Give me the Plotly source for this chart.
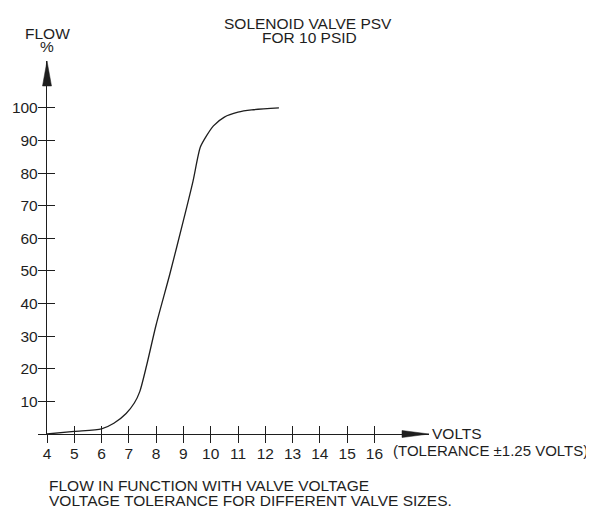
import plotly.graph_objects as go

# ---- data ----
volts = [4, 5, 6, 6.45, 6.9, 7.2, 7.4, 7.65, 8.0, 8.5, 9.0, 9.35, 9.62, 9.85, 10.1, 10.5, 11.0, 11.5, 12.5]
flow = [0, 0.8, 1.6, 3.3, 6.3, 9.5, 13, 21, 33.5, 49, 65.5, 77.5, 88, 91.5, 94.5, 97.2, 98.7, 99.4, 100]

x_ticks = [4, 5, 6, 7, 8, 9, 10, 11, 12, 13, 14, 15, 16]
y_ticks = [0, 10, 20, 30, 40, 50, 60, 70, 80, 90, 100]
y_tick_text = ["", "10", "20", "30", "40", "50", "60", "70", "80", "90", "100"]

X_RANGE = [4, 18]
Y_RANGE = [0, 114.4]

title_lines = ["SOLENOID VALVE PSV", "FOR 10 PSID"]
y_label_lines = ["FLOW", "%"]
x_label = "VOLTS"
x_note = "(TOLERANCE ±1.25 VOLTS)"
note_lines = ["FLOW IN FUNCTION WITH VALVE VOLTAGE",
              "VOLTAGE TOLERANCE FOR DIFFERENT VALVE SIZES."]

INK = "#1e1e1e"
FONT = "Liberation Sans, Arial, sans-serif"
FS = 15.5

fig = go.Figure()
fig.add_trace(go.Scatter(x=volts, y=flow, mode="lines",
                         line=dict(color=INK, width=1.3, shape="spline", smoothing=0.7),
                         hoverinfo="skip", showlegend=False))
# invisible trace on overlay axes to keep them active
fig.add_trace(go.Scatter(x=[volts[0]], y=[flow[0]], xaxis="x2", yaxis="y2",
                         mode="markers", marker=dict(opacity=0), showlegend=False,
                         hoverinfo="skip"))

axis_common = dict(showgrid=False, zeroline=False, linecolor=INK, linewidth=1.3,
                   tickcolor=INK, tickwidth=1.3, ticklen=8, automargin=False,
                   tickfont=dict(family=FONT, size=FS, color=INK))

# the page body has an 8px margin, so the figure is sized to fit the window
fig.update_layout(
    width=586, height=500,
    margin=dict(l=39, r=165, t=53, b=74),
    paper_bgcolor="white", plot_bgcolor="white",
    font=dict(family=FONT, size=FS, color=INK),
    xaxis=dict(range=X_RANGE, tickvals=x_ticks, ticks="outside", showline=True,
               ticklabelstandoff=-3, **axis_common),
    yaxis=dict(range=Y_RANGE, tickvals=y_ticks, ticktext=y_tick_text, ticks="outside",
               showline=True, ticklabelstandoff=-3, **axis_common),
    xaxis2=dict(range=X_RANGE, tickvals=x_ticks, ticks="inside", showline=False,
                showticklabels=False, overlaying="x", side="bottom", anchor="y2",
                **axis_common),
    yaxis2=dict(range=Y_RANGE, tickvals=y_ticks, ticks="inside", showline=False,
                showticklabels=False, overlaying="y", side="left", anchor="x2",
                **axis_common),
)

# arrow heads at the ends of the axes (paper-referenced so they are not clipped)
fig.add_shape(type="path", xref="paper", yref="paper", xsizemode="pixel", ysizemode="pixel",
              xanchor=0, yanchor=1,
              path="M0,0 L-4.5,-25 L4.5,-25 Z", fillcolor=INK, line=dict(color=INK, width=0.5))
fig.add_shape(type="path", xref="paper", yref="paper", xsizemode="pixel", ysizemode="pixel",
              xanchor=1, yanchor=0,
              path="M0,0 L-27,3.5 L-27,-3.5 Z", fillcolor=INK, line=dict(color=INK, width=0.5))

def ann(text, x, y, xanchor="center", size=FS):
    fig.add_annotation(text=text, x=x, y=y, xref="paper", yref="paper",
                       xanchor=xanchor, yanchor="middle", showarrow=False,
                       font=dict(family=FONT, size=size, color=INK))

ann(title_lines[0], 0.684, 1.100)
ann(title_lines[1], 0.688, 1.063)
ann(y_label_lines[0], 0.0013, 1.073)
ann(y_label_lines[1], 0.0, 1.038)
ann(x_label, 1.0026, 0.002, xanchor="left")
ann(x_note, 0.901, -0.043, xanchor="left", size=15)
ann(note_lines[0], 0.0, -0.137, xanchor="left")
ann(note_lines[1], 0.0, -0.179, xanchor="left")

fig.write_html("out.html")
